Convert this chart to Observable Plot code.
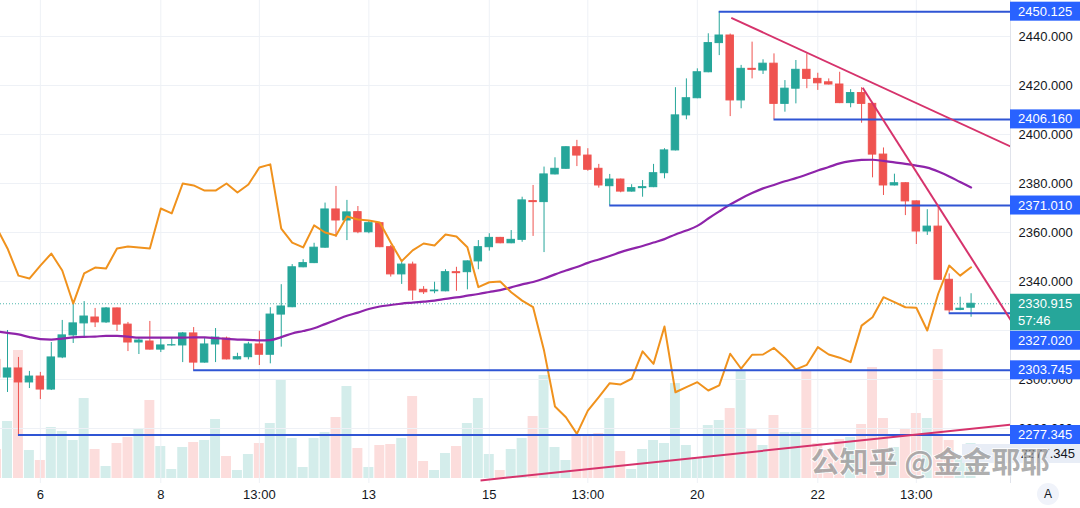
<!DOCTYPE html>
<html><head><meta charset="utf-8">
<script src="https://cdn.jsdelivr.net/npm/d3@7"></script>
<script src="https://cdn.jsdelivr.net/npm/@observablehq/plot@0.6"></script>
<style>
body{margin:0;background:#fff;}
#wrap{position:relative;width:1080px;height:508px;overflow:hidden;background:#fff;font-family:"Liberation Sans",Arial,sans-serif;}
#wrap svg{position:absolute;left:0;top:0;}
</style></head><body><div id="wrap"></div>
<script>
// ---- data (4H candles, XAUUSD); first bar is the partly visible one at the left edge ----
const firstBar = -1;
const opens = [2308.0,2300.8,2304.5,2298.8,2301.2,2295.9,2309.0,2318.0,2322.9,2325.3,2323.3,2329.0,2322.4,2315.1,2315.5,2312.2,2313.9,2313.9,2318.8,2306.9,2314.3,2316.7,2308.2,2309.1,2314.3,2310.1,2326.5,2329.5,2345.8,2347.5,2353.8,2369.4,2364.9,2368.3,2360.1,2363.8,2354.0,2342.9,2346.9,2336.6,2336.0,2336.0,2343.8,2343.8,2348.2,2354.0,2357.8,2355.6,2357.0,2372.8,2372.4,2383.7,2386.0,2394.8,2391.4,2386.0,2378.9,2381.6,2376.7,2378.1,2378.5,2384.2,2393.5,2407.8,2414.8,2425.4,2437.3,2440.4,2413.9,2426.8,2426.1,2428.9,2412.5,2418.7,2426.4,2422.7,2421.3,2420.4,2412.8,2416.9,2412.5,2391.8,2379.2,2380.1,2372.7,2360.4,2362.4,2340.7,2328.4,2329.3];
const highs = [2310.0,2320.0,2309.0,2303.3,2302.9,2315.1,2324.1,2331.0,2331.8,2329.0,2329.4,2329.2,2323.3,2316.7,2323.7,2317.1,2316.7,2319.2,2321.2,2316.7,2320.8,2317.3,2310.7,2315.2,2319.7,2329.3,2338.7,2346.9,2348.9,2355.6,2372.0,2378.8,2373.1,2370.6,2364.9,2364.0,2354.7,2348.3,2347.9,2337.9,2339.7,2344.8,2345.8,2348.4,2356.7,2359.5,2358.0,2360.8,2374.4,2379.2,2386.7,2390.5,2395.0,2397.6,2394.2,2387.8,2383.7,2381.8,2379.5,2381.2,2387.8,2394.2,2419.1,2422.7,2426.8,2441.1,2450.125,2441.0,2428.2,2437.7,2430.5,2432.9,2422.0,2430.2,2432.9,2425.0,2422.7,2425.4,2418.3,2419.1,2412.7,2394.5,2383.8,2380.3,2372.9,2369.3,2370.3,2343.1,2333.6,2335.0];
const lows = [2299.0,2294.7,2277.345,2296.3,2291.8,2295.5,2308.5,2314.7,2317.5,2321.2,2322.9,2319.6,2311.4,2310.2,2312.0,2311.0,2313.6,2306.9,2303.745,2306.7,2306.9,2308.0,2308.0,2308.0,2305.7,2306.4,2313.2,2329.3,2345.6,2347.3,2353.6,2358.0,2356.7,2359.5,2359.5,2353.8,2341.8,2338.8,2332.2,2334.7,2335.0,2335.8,2336.0,2336.6,2344.8,2352.4,2355.4,2355.4,2356.0,2358.4,2351.8,2383.5,2385.8,2386.9,2385.0,2378.1,2371.01,2376.2,2376.5,2374.4,2378.3,2381.9,2393.3,2406.0,2414.6,2425.2,2432.2,2407.3,2410.5,2422.7,2424.5,2406.16,2409.1,2412.5,2418.7,2418.0,2420.2,2412.6,2410.9,2404.6,2382.3,2375.1,2379.0,2366.9,2355.1,2358.8,2340.5,2327.02,2328.1,2325.4];
const closes = [2300.8,2304.5,2298.8,2301.2,2295.9,2309.0,2318.0,2322.9,2325.7,2323.3,2329.0,2322.4,2315.1,2315.9,2312.2,2313.9,2314.0,2318.8,2306.9,2314.3,2317.1,2308.2,2309.1,2314.3,2310.1,2326.5,2329.8,2345.8,2347.5,2353.8,2369.4,2364.9,2368.2,2360.1,2363.8,2354.0,2342.9,2346.9,2336.3,2335.6,2336.3,2343.8,2343.4,2348.2,2354.0,2357.8,2355.6,2357.0,2373.1,2372.4,2383.7,2386.0,2394.8,2391.4,2385.6,2379.2,2381.6,2376.7,2378.1,2378.5,2384.2,2393.5,2407.8,2414.8,2425.4,2437.3,2440.4,2413.9,2426.8,2426.4,2428.9,2412.5,2418.7,2426.4,2422.7,2420.9,2420.4,2412.8,2416.9,2412.5,2391.8,2379.2,2380.1,2372.7,2360.4,2362.4,2340.7,2328.2,2328.9,2330.915];
const volumes = [29,57,128,28,18,51,47,38,80,29,12,35,41,50,78,32,9,31,36,38,59,22,8,24,35,55,98,40,11,40,46,61,92,30,11,33,34,40,82,17,8,25,32,55,80,24,8,29,40,62,103,31,18,44,43,45,80,27,9,29,38,35,95,33,21,53,58,70,108,49,33,63,46,46,107,35,28,39,41,54,111,60,31,50,65,60,129,38,20,35];
const compareSeries = [2362.0,2353.5,2342.4,2341.2,2346.5,2351.4,2344.5,2331.0,2343.3,2345.7,2345.3,2353.5,2354.3,2353.9,2353.5,2369.8,2367.8,2380.0,2379.2,2377.1,2377.1,2380.0,2376.3,2379.6,2386.5,2387.8,2361.6,2355.9,2353.9,2362.9,2360.0,2358.8,2366.5,2365.3,2364.9,2364.1,2355.9,2348.3,2352.7,2355.5,2354.7,2359.2,2358.4,2354.0,2337.7,2339.7,2340.0,2335.6,2332.2,2329.5,2311.8,2289.0,2284.6,2277.8,2287.3,2292.8,2298.5,2298.0,2300.3,2311.5,2306.4,2321.6,2294.8,2296.9,2298.9,2295.5,2297.6,2310.5,2304.4,2310.1,2310.2,2312.9,2308.9,2304.1,2306.0,2313.2,2310.2,2308.9,2307.1,2322.0,2325.4,2333.6,2331.6,2329.5,2329.3,2320.0,2335.0,2346.5,2342.4,2345.8];
const maSeries = [2319.6,2319.0,2318.4,2317.3,2316.5,2316.3,2316.7,2317.2,2317.4,2317.5,2317.8,2317.8,2317.5,2317.1,2317.1,2317.1,2317.1,2317.1,2317.2,2317.2,2316.9,2316.6,2316.3,2316.2,2316.0,2316.1,2317.3,2318.8,2319.8,2320.9,2322.6,2324.3,2326.0,2327.3,2328.8,2329.8,2330.4,2331.0,2331.4,2331.8,2332.2,2332.9,2333.5,2334.2,2334.9,2335.7,2336.5,2337.6,2338.8,2339.8,2341.2,2342.9,2344.5,2345.9,2347.6,2349.0,2350.4,2352.0,2353.3,2354.5,2355.9,2357.3,2359.2,2360.8,2362.7,2365.7,2368.6,2371.4,2373.9,2376.1,2378.0,2379.4,2380.9,2382.2,2383.7,2385.3,2386.7,2388.2,2389.1,2389.6,2389.7,2389.2,2388.6,2388.0,2387.3,2386.5,2384.9,2382.9,2380.6,2378.4];
const levelPrices = [2450.125, 2406.160, 2371.010, 2327.020, 2303.745, 2277.345];
const levelStartBar = [65, 70, 55, 86, 17, 1];
const trendFromBar = [66.1, 78.1, 43.2];
const trendFromPrice = [2447.6, 2419.1, 2258.8];
const trendToBar = [91.75, 91.75, 91.75];
const trendToPrice = [2394.8, 2323.4, 2281.6];
const priceTicks = [2280, 2300, 2320, 2340, 2360, 2380, 2400, 2420, 2440];
const timeTickBars = [3, 14, 23, 33, 44, 53, 63, 74, 83];
const timeTickLabels = ["6", "8", "13:00", "13", "15", "13:00", "20", "22", "13:00"];
const lastPrice = 2330.915;
const countdown = "57:46";
const ghostLabel = "2277.345";
const watermark = "公知乎 @金金耶耶";

// ---- layout / style ----
const W = 1080, H = 508, MR = 70, MB = 25;
const UP = "#26a69a", DN = "#ef5350";
const LEVEL = "#2f55d4", LABEL = "#2962ff", TREND = "#d6336c";
const xDomain = [-0.64, 91.6];
const yDomain = [2257.55, 2454.69];
const FONT = '"Liberation Sans", Arial, sans-serif';

const candles = opens.map((o, k) => ({i: k + firstBar, o, h: highs[k], l: lows[k], c: closes[k], up: closes[k] >= o, v: volumes[k], cmp: compareSeries[k], ma: maSeries[k]}));
const upC = candles.filter(d => d.up), dnC = candles.filter(d => !d.up);
const levels = levelPrices.map((p, k) => ({p, start: levelStartBar[k]}));
const trends = trendFromBar.map((b, k) => ({x1: b, y1: trendFromPrice[k], x2: trendToBar[k], y2: trendToPrice[k]}));

const wrap = document.getElementById("wrap");

const volPlot = Plot.plot({
  width: W, height: H, marginLeft: 0, marginRight: MR, marginTop: 0, marginBottom: MB,
  style: {background: "transparent"},
  x: {domain: xDomain, axis: null},
  y: {domain: [0, 140], range: [478, 338], axis: null},
  marks: [
    Plot.rect(upC, {x1: d => d.i - 0.5, x2: d => d.i + 0.5, y1: 0, y2: "v", fill: UP, fillOpacity: 0.2, insetLeft: 0.5, insetRight: 0.5, clip: true}),
    Plot.rect(dnC, {x1: d => d.i - 0.5, x2: d => d.i + 0.5, y1: 0, y2: "v", fill: DN, fillOpacity: 0.2, insetLeft: 0.5, insetRight: 0.5, clip: true})
  ]
});
wrap.appendChild(volPlot);

const pricePlot = Plot.plot({
  width: W, height: H, marginLeft: 0, marginRight: MR, marginTop: 0, marginBottom: MB,
  style: {background: "transparent", fontFamily: FONT, fontSize: "13px", color: "#131722"},
  x: {domain: xDomain, axis: null},
  y: {domain: yDomain, axis: null},
  marks: [
    Plot.gridY(priceTicks, {stroke: "#eef1f6", strokeOpacity: 1}),
    Plot.gridX(timeTickBars, {stroke: "#eef1f6", strokeOpacity: 1}),
    Plot.ruleY([lastPrice], {stroke: UP, strokeDasharray: "1,2", strokeOpacity: 0.8}),
    Plot.ruleX(upC, {x: "i", y1: "l", y2: "h", stroke: UP, strokeWidth: 1, clip: true}),
    Plot.ruleX(dnC, {x: "i", y1: "l", y2: "h", stroke: DN, strokeWidth: 1, clip: true}),
    Plot.rect(upC, {x1: d => d.i - 0.34, x2: d => d.i + 0.34, y1: "o", y2: "c", fill: UP, stroke: UP, strokeWidth: 1, clip: true}),
    Plot.rect(dnC, {x1: d => d.i - 0.34, x2: d => d.i + 0.34, y1: "o", y2: "c", fill: DN, stroke: DN, strokeWidth: 1, clip: true}),
    Plot.line(candles, {x: "i", y: "ma", stroke: "#8e24aa", strokeWidth: 2.2, curve: "monotone-x", clip: true}),
    Plot.line(candles, {x: "i", y: "cmp", stroke: "#f0921d", strokeWidth: 2, strokeLinejoin: "round", clip: true}),
    Plot.ruleY(levels, {y: "p", x1: "start", x2: xDomain[1], stroke: LEVEL, strokeWidth: 2}),
    Plot.link(trends, {x1: "x1", y1: "y1", x2: "x2", y2: "y2", stroke: TREND, strokeWidth: 2, clip: true}),
    Plot.axisY(priceTicks, {anchor: "right", tickSize: 0, tickPadding: 8, tickFormat: d => d.toFixed(3), fontSize: 13, fill: "#131722"}),
    Plot.axisX(timeTickBars, {anchor: "bottom", tickSize: 0, tickPadding: 6, tickFormat: d => timeTickLabels[timeTickBars.indexOf(d)], fontSize: 13, fill: "#131722"}),
    Plot.ruleX([xDomain[1]], {stroke: "#e0e3eb"})
  ]
});
wrap.appendChild(pricePlot);

// ---- price-scale labels drawn with the plot's own y scale ----
const ys = pricePlot.scale("y");
const svg = d3.select(pricePlot);
const left = W - MR;
const yLast = ys.apply(lastPrice);
const lastTop = yLast - 9.5, lastBottom = yLast + 27;

// axis labels fully covered by the last-price box are not shown (as on the reference)
svg.selectAll('[aria-label="y-axis tick label"] text').each(function(t) {
  const ty = ys.apply(priceTicks[t] !== undefined ? priceTicks[t] : t);
  const v = typeof t === "number" && t > 1000 ? ys.apply(t) : ty;
  if (v > lastTop && v < lastBottom) d3.select(this).remove();
});

const g = svg.append("g").attr("font-family", FONT).attr("font-size", 13).attr("text-anchor", "start");

// ghost label under the watermark
const yGhost = ys.apply(2277.345) + 19;
g.append("rect").attr("x", left - 48).attr("y", yGhost - 9.5).attr("width", MR + 48).attr("height", 19).attr("fill", "#e8edf6");
g.append("text").attr("x", W - 5).attr("y", yGhost).attr("dy", "0.35em").attr("text-anchor", "end").attr("fill", "#131722").text(ghostLabel);

levelPrices.forEach(p => {
  let cy = ys.apply(p);
  if (cy > lastTop - 9 && cy < lastBottom + 9) cy = lastBottom + 10;
  g.append("rect").attr("x", left).attr("y", cy - 9.5).attr("width", MR).attr("height", 19).attr("fill", LABEL);
  g.append("text").attr("x", left + 8).attr("y", cy).attr("dy", "0.35em").attr("fill", "#fff").text(p.toFixed(3));
});
g.append("rect").attr("x", left).attr("y", lastTop).attr("width", MR).attr("height", lastBottom - lastTop).attr("fill", UP);
g.append("text").attr("x", left + 8).attr("y", yLast).attr("dy", "0.35em").attr("fill", "#fff").text(lastPrice.toFixed(3));
g.append("text").attr("x", left + 8).attr("y", yLast + 17).attr("dy", "0.35em").attr("fill", "#fff").text(countdown);

// watermark
svg.append("text").attr("x", 930).attr("y", 463).attr("dy", "0.35em").attr("text-anchor", "middle")
  .attr("font-family", '"Noto Sans CJK SC", sans-serif').attr("font-size", 29).attr("font-weight", 700)
  .attr("fill", "#8c8c8c").attr("fill-opacity", 0.7).attr("stroke", "#fff").attr("stroke-width", 1.5)
  .attr("paint-order", "stroke").text(watermark);

// auto-scale button
svg.append("circle").attr("cx", 1048).attr("cy", 494).attr("r", 11).attr("fill", "#f0f3fa");
svg.append("text").attr("x", 1048).attr("y", 494).attr("dy", "0.35em").attr("text-anchor", "middle").attr("font-family", FONT).attr("font-size", 12).attr("fill", "#131722").text("A");
</script></body></html>
